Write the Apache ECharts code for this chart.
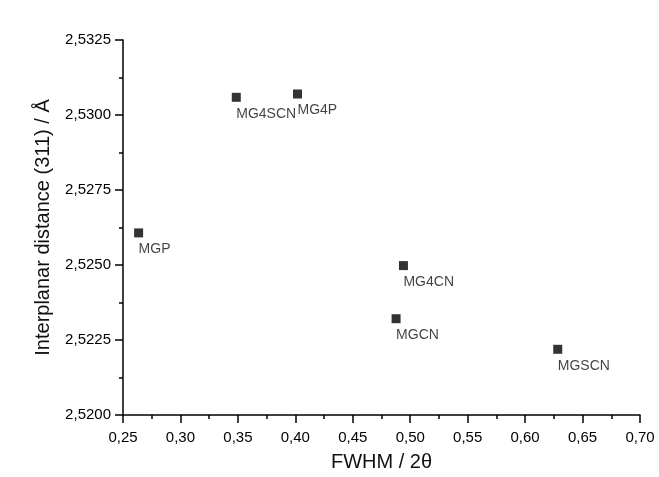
<!DOCTYPE html>
<html>
<head>
<meta charset="utf-8">
<script src="https://cdn.jsdelivr.net/npm/echarts@6/dist/echarts.min.js"></script>
<style>html,body{margin:0;padding:0;background:#fff}#c{width:659px;height:477px}</style>
</head>
<body>
<div id="c"></div>
<script>
var sampleNames = ['MGP', 'MG4SCN', 'MG4P', 'MG4CN', 'MGCN', 'MGSCN'];
var fwhmValues = [0.2636, 0.3486, 0.4019, 0.4941, 0.4877, 0.6284];
var distanceValues = [2.52607, 2.53059, 2.53070, 2.52498, 2.52321, 2.52219];
var xTickLabels = ['0,25','0,30','0,35','0,40','0,45','0,50','0,55','0,60','0,65','0,70'];
var yTickLabels = ['2,5200','2,5225','2,5250','2,5275','2,5300','2,5325'];

var data = sampleNames.map(function (n, i) { return { name: n, value: [fwhmValues[i], distanceValues[i]] }; });
var font = 'Liberation Sans, Arial, sans-serif';
var chart = echarts.init(document.getElementById('c'), null, { renderer: 'canvas' });
chart.setOption({
  backgroundColor: '#ffffff',
  animation: false,
  grid: { left: 123, right: 19, top: 40, bottom: 56.5, containLabel: false },
  xAxis: {
    type: 'value', min: 0.25, max: 0.70, interval: 0.05,
    name: 'FWHM / 2θ', nameLocation: 'middle', nameGap: 37,
    nameTextStyle: { fontFamily: font, fontSize: 20, color: '#111' },
    axisLine: { show: true, lineStyle: { color: '#000', width: 1.5 } },
    axisTick: { show: true, inside: false, length: 8, lineStyle: { color: '#000', width: 1.5 } },
    minorTick: { show: true, splitNumber: 2, length: 4, lineStyle: { color: '#000', width: 1.5 } },
    splitLine: { show: false },
    axisLabel: { margin: 15, fontFamily: font, fontSize: 15, color: '#000',
      formatter: function (v) { var i = Math.round((v - 0.25) / 0.05); return xTickLabels[i] || ''; } }
  },
  yAxis: {
    type: 'value', min: 2.52, max: 2.5325, interval: 0.0025,
    name: 'Interplanar distance (311) / Å', nameLocation: 'middle', nameGap: 70, nameRotate: 90,
    nameTextStyle: { fontFamily: font, fontSize: 20, color: '#111' },
    axisLine: { show: true, lineStyle: { color: '#000', width: 1.5 } },
    axisTick: { show: true, inside: false, length: 8, lineStyle: { color: '#000', width: 1.5 } },
    minorTick: { show: true, splitNumber: 2, length: 4, lineStyle: { color: '#000', width: 1.5 } },
    splitLine: { show: false },
    axisLabel: { margin: 12, fontFamily: font, fontSize: 15, color: '#000',
      formatter: function (v) { var i = Math.round((v - 2.52) / 0.0025); return yTickLabels[i] || ''; } }
  },
  series: [{
    type: 'scatter',
    symbol: 'rect', symbolSize: 9,
    itemStyle: { color: '#000' },
    data: data,
    label: {
      show: true, position: [4.5, 21], align: 'left', verticalAlign: 'middle',
      formatter: '{b}', fontFamily: font, fontSize: 14, color: '#111'
    }
  }]
});
</script>
</body>
</html>
